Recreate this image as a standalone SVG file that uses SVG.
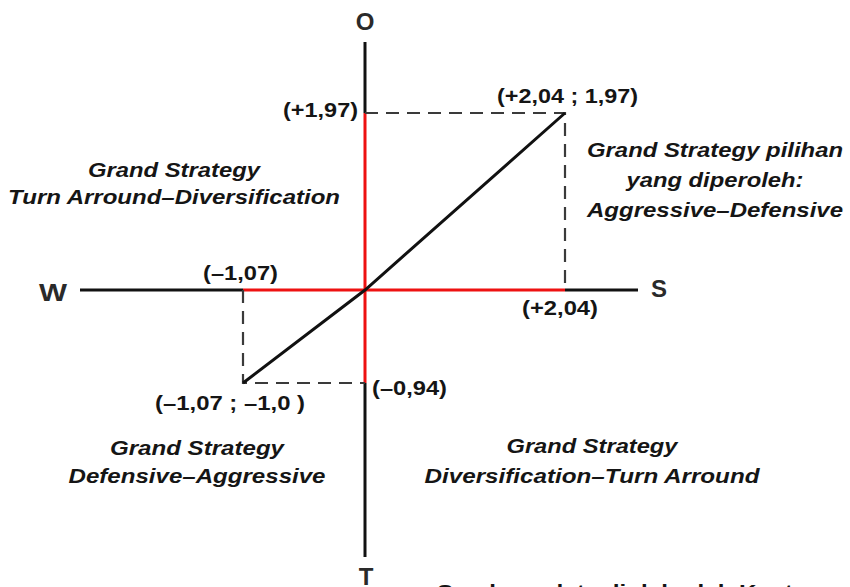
<svg xmlns="http://www.w3.org/2000/svg" width="850" height="587" viewBox="0 0 850 587">
<style>
text{font-family:"Liberation Sans",Arial,sans-serif;font-weight:bold;fill:#151515}
.ax{font-size:24px;fill:#2a2a2a}
.val{font-size:20px}
.it{font-size:20px;font-style:italic;text-anchor:middle}
.blk{stroke:#111;stroke-width:3;fill:none}
.red{stroke:#ee1111;stroke-width:3;fill:none}
.dash{stroke:#3a3a3a;stroke-width:2.2;fill:none;stroke-dasharray:13 8}
</style>
<rect width="850" height="587" fill="#fff"/>
<g id="axes">
  <line class="blk" x1="365" y1="42" x2="365" y2="113"/>
  <line class="blk" x1="365" y1="383" x2="365" y2="557"/>
  <line class="blk" x1="80" y1="290" x2="243" y2="290"/>
  <line class="blk" x1="565" y1="290" x2="638" y2="290"/>
  <line class="red" x1="365" y1="113" x2="365" y2="383"/>
  <line class="red" x1="243" y1="290" x2="565" y2="290"/>
</g>
<g id="connectors">
  <path class="dash" d="M365 113 H565 V290"/>
  <path class="dash" d="M243 290 V383 H365"/>
  <polyline class="blk" points="243,383 365,290 565,113"/>
</g>
<g id="axis-labels">
  <text class="ax" x="365" y="30" text-anchor="middle">O</text>
  <text class="ax" x="53" y="301" text-anchor="middle" textLength="28" lengthAdjust="spacingAndGlyphs">W</text>
  <text class="ax" x="659" y="297" text-anchor="middle">S</text>
  <text class="ax" x="366" y="585" text-anchor="middle">T</text>
</g>
<g id="values">
  <text class="val" x="283" y="117" textLength="75" lengthAdjust="spacingAndGlyphs">(+1,97)</text>
  <text class="val" x="497" y="103" textLength="141" lengthAdjust="spacingAndGlyphs">(+2,04 ; 1,97)</text>
  <text class="val" x="203" y="280" textLength="75" lengthAdjust="spacingAndGlyphs">(–1,07)</text>
  <text class="val" x="522" y="315" textLength="76" lengthAdjust="spacingAndGlyphs">(+2,04)</text>
  <text class="val" x="372" y="395" textLength="75" lengthAdjust="spacingAndGlyphs">(–0,94)</text>
  <text class="val" x="155" y="410" textLength="150" lengthAdjust="spacingAndGlyphs">(–1,07 ; –1,0 )</text>
</g>
<g id="q-top-left">
  <text class="it" x="174" y="177" textLength="172" lengthAdjust="spacingAndGlyphs">Grand Strategy</text>
  <text class="it" x="174" y="204" textLength="332" lengthAdjust="spacingAndGlyphs">Turn Arround–Diversification</text>
</g>
<g id="q-top-right">
  <text class="it" x="715" y="157" textLength="256" lengthAdjust="spacingAndGlyphs">Grand Strategy pilihan</text>
  <text class="it" x="715" y="187" textLength="177" lengthAdjust="spacingAndGlyphs">yang diperoleh:</text>
  <text class="it" x="715" y="217" textLength="256" lengthAdjust="spacingAndGlyphs">Aggressive–Defensive</text>
</g>
<g id="q-bottom-left">
  <text class="it" x="197" y="455" textLength="174" lengthAdjust="spacingAndGlyphs">Grand Strategy</text>
  <text class="it" x="197" y="483" textLength="257" lengthAdjust="spacingAndGlyphs">Defensive–Aggressive</text>
</g>
<g id="q-bottom-right">
  <text class="it" x="592" y="453" textLength="171" lengthAdjust="spacingAndGlyphs">Grand Strategy</text>
  <text class="it" x="592" y="483" textLength="335" lengthAdjust="spacingAndGlyphs">Diversification–Turn Arround</text>
</g>
<g id="caption">
  <text class="val" x="437" y="599" textLength="380" lengthAdjust="spacingAndGlyphs">Sumber : data diolah oleh Kantor</text>
</g>
</svg>
